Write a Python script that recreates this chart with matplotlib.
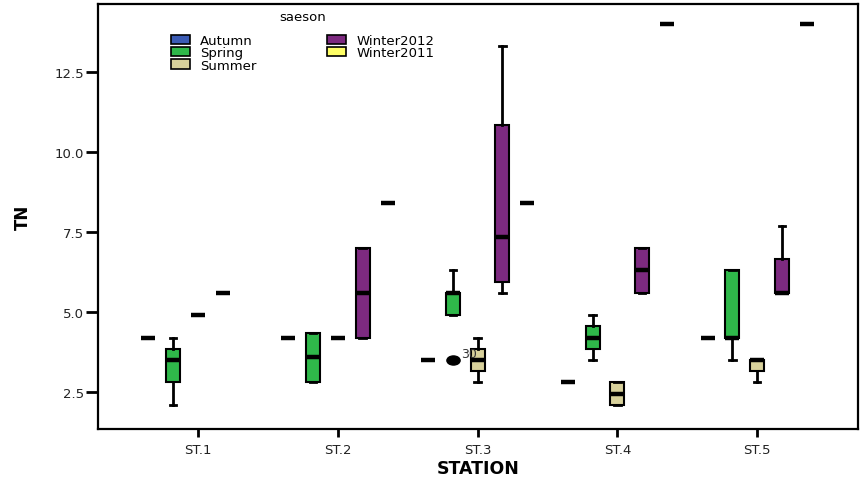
import matplotlib
matplotlib.use('Agg')
from matplotlib import pyplot as plt
from matplotlib.patches import Patch
from matplotlib.path import Path
from matplotlib.transforms import Affine2D

plt.rcParams['font.family'] = ['DejaVu Sans']

stations = ['ST.1', 'ST.2', 'ST.3', 'ST.4', 'ST.5']
seasons = ['Autumn', 'Spring', 'Summer', 'Winter2012', 'Winter2011']
colors = ['#3b5bb4', '#2fb84a', '#d8d19b', '#7d2a80', '#ffff66']

# (whisker low, q1, median, q3, whisker high) for each station
autumn = [(4.2,) * 5, (4.2,) * 5, (3.5,) * 5, (2.8,) * 5, (4.2,) * 5]
spring = [(2.1, 2.8, 3.5, 3.85, 4.2), (2.8, 2.8, 3.6, 4.35, 4.35),
          (4.9, 4.9, 5.6, 5.6, 6.3), (3.5, 3.85, 4.2, 4.55, 4.9),
          (3.5, 4.2, 4.2, 6.3, 6.3)]
summer = [(4.9,) * 5, (4.2,) * 5, (2.8, 3.15, 3.5, 3.85, 4.2),
          (2.1, 2.1, 2.45, 2.8, 2.8), (2.8, 3.15, 3.5, 3.5, 3.5)]
winter2012 = [(5.6,) * 5, (4.2, 4.2, 5.6, 7.0, 7.0),
              (5.6, 5.95, 7.35, 10.85, 13.3), (5.6, 5.6, 6.3, 7.0, 7.0),
              (5.6, 5.6, 5.6, 6.65, 7.7)]
winter2011 = [None, (8.4,) * 5, (8.4,) * 5, (14.0,) * 5, (14.0,) * 5]
season_data = [autumn, spring, summer, winter2012, winter2011]

# outlier: (season index, station index, value, case label)
outliers = [(1, 2, 3.5, '30')]

# flat ellipse marker like the SPSS output
ellipse = Path.unit_circle().transformed(Affine2D().scale(1.45, 1.0))

fig = plt.figure(figsize=(8.62, 4.81), dpi=100)
ax = fig.add_axes([98 / 862, 51 / 481, 760 / 862, 425 / 481])

step = 0.178
for j, data in enumerate(season_data):
    stats = []
    pos = []
    for i, s in enumerate(data):
        if s is None:
            continue
        fl = [o[2] for o in outliers if o[0] == j and o[1] == i]
        stats.append(dict(whislo=s[0], q1=s[1], med=s[2], q3=s[3], whishi=s[4], fliers=fl))
        pos.append(i + (j - 2) * step)
    ax.bxp(stats, positions=pos, widths=0.1, capwidths=0.045, patch_artist=True,
           boxprops=dict(facecolor=colors[j], edgecolor='black', linewidth=1.5),
           medianprops=dict(color='black', linewidth=3.2, solid_capstyle='butt'),
           whiskerprops=dict(color='black', linewidth=2),
           capprops=dict(color='black', linewidth=2),
           flierprops=dict(marker=ellipse, markerfacecolor='black', markeredgecolor='black',
                           markersize=9.5))

for j, i, v, lab in outliers:
    ax.text(i + (j - 2) * step + 0.06, v + 0.1, lab, fontsize=9, color='#333333')

ax.set_xlim(-0.714, 4.72)
ax.set_ylim(1.344, 14.625)
ax.set_xticks(range(len(stations)))
ax.set_xticklabels(stations)
ax.set_yticks([2.5, 5.0, 7.5, 10.0, 12.5])
ax.set_yticklabels(['2.5', '5.0', '7.5', '10.0', '12.5'])
ax.tick_params(axis='y', length=9, width=2, labelsize=9.5, labelcolor='#222222', pad=1)
ax.tick_params(axis='x', length=6, width=2, labelsize=9.5, labelcolor='#222222', pad=4)
for sp in ax.spines.values():
    sp.set_linewidth(1.6)

ax.set_xlabel('STATION', fontsize=12.5, fontweight='bold', labelpad=2)
ax.set_ylabel('TN', fontsize=12, fontweight='bold', labelpad=16)

handles = [Patch(facecolor=c, edgecolor='black', linewidth=1.2, label=s)
           for s, c in zip(seasons, colors)]
leg = ax.legend(handles=handles, ncol=2, title='saeson', frameon=False,
                loc='upper left', bbox_to_anchor=(0.085, 1.005), fontsize=9.5,
                title_fontsize=9.5, handlelength=1.45, handleheight=0.7,
                labelspacing=-0.05, handletextpad=0.8, columnspacing=5.3,
                borderaxespad=0.2)
leg._legend_box.sep = 8

fig.savefig('out.png', dpi=100)
